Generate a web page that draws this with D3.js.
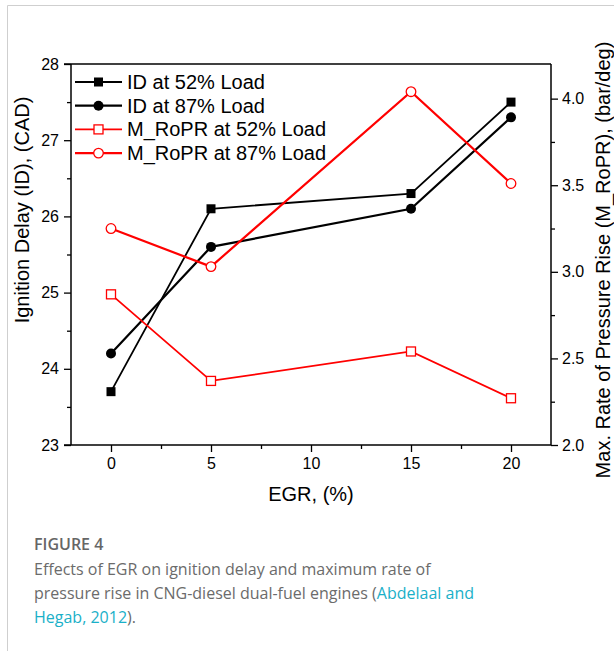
<!DOCTYPE html>
<html>
<head>
<meta charset="utf-8">
<script src="https://cdn.jsdelivr.net/npm/d3@7"></script>
<style>
  body { margin: 0; background: #fff; }
  svg text { font-family: "Liberation Sans", Arial, sans-serif; }
  .cap { font-family: "Open Sans", "Noto Sans", sans-serif; }
</style>
</head>
<body>
<div id="chart"></div>
<script>
// data
const egr = [0, 5, 15, 20];
const id52 = [23.7, 26.1, 26.3, 27.5];
const id87 = [24.2, 25.6, 26.1, 27.3];
const ropr52 = [2.87, 2.37, 2.54, 2.27];
const ropr87 = [3.25, 3.03, 4.04, 3.51];

const xTicks = [0, 5, 10, 15, 20];
const xMinor = [2.5, 7.5, 12.5, 17.5];
const leftTicks = [23, 24, 25, 26, 27, 28];
const leftMinor = [23.5, 24.5, 25.5, 26.5, 27.5];
const rightTicks = [2.0, 2.5, 3.0, 3.5, 4.0];
const rightMinor = [2.25, 2.75, 3.25, 3.75];

const legendNames = ["ID at 52% Load", "ID at 87% Load", "M_RoPR at 52% Load", "M_RoPR at 87% Load"];

const W = 614, H = 651;
const svg = d3.select('#chart').append('svg')
  .attr('width', W)
  .attr('height', H);

// card border
svg.append('path')
  .attr('d', 'M7.5,651 L7.5,5.5 L614,5.5')
  .attr('fill', 'none')
  .attr('stroke', '#cfcfcf')
  .attr('stroke-width', 1);

let x = d3.scaleLinear().domain([-2, 22]).range([71, 551]);
let yL = d3.scaleLinear().domain([23, 28]).range([445, 64]);
let yR = d3.scaleLinear().domain([2.0, 4.2]).range([445, 64]);

function styleAxis(g) {
  g.select('.domain').remove();
  g.selectAll('.tick line').attr('stroke', '#000').attr('stroke-width', 1.3);
  g.selectAll('.tick text').attr('fill', '#000').style('font-size', '16px');
}

// bottom axis
svg.append('g').attr('transform', 'translate(0,445)')
  .call(d3.axisBottom(x).tickValues(xTicks).tickSize(7).tickPadding(6).tickFormat(d3.format('d')))
  .call(styleAxis);
svg.append('g').attr('transform', 'translate(0,445)')
  .call(d3.axisBottom(x).tickValues(xMinor).tickSize(4).tickFormat(''))
  .call(styleAxis);

// left axis
svg.append('g').attr('transform', 'translate(71,0)')
  .call(d3.axisLeft(yL).tickValues(leftTicks).tickSize(7).tickPadding(5).tickFormat(d3.format('d')))
  .call(styleAxis);
svg.append('g').attr('transform', 'translate(71,0)')
  .call(d3.axisLeft(yL).tickValues(leftMinor).tickSize(4).tickFormat(''))
  .call(styleAxis);

// right axis
svg.append('g').attr('transform', 'translate(551,0)')
  .call(d3.axisRight(yR).tickValues(rightTicks).tickSize(7).tickPadding(4).tickFormat(d3.format('.1f')))
  .call(styleAxis);
svg.append('g').attr('transform', 'translate(551,0)')
  .call(d3.axisRight(yR).tickValues(rightMinor).tickSize(4).tickFormat(''))
  .call(styleAxis);

// frame
let frame = svg.append('g').attr('stroke', '#000').attr('stroke-width', 1.5);
frame.append('line').attr('x1', 64).attr('x2', 551).attr('y1', 64).attr('y2', 64);
frame.append('line').attr('x1', 64).attr('x2', 551).attr('y1', 445).attr('y2', 445);
frame.append('line').attr('x1', 71).attr('x2', 71).attr('y1', 64).attr('y2', 445);
frame.append('line').attr('x1', 551).attr('x2', 551).attr('y1', 64).attr('y2', 445);

// axis titles
svg.append('text')
  .attr('transform', 'translate(29,210) rotate(-90)')
  .attr('text-anchor', 'middle')
  .style('font-size', '20px')
  .text('Ignition Delay (ID), (CAD)');
svg.append('text')
  .attr('transform', 'translate(610,260) rotate(-90)')
  .attr('text-anchor', 'middle')
  .style('font-size', '20px')
  .text('Max. Rate of Pressure Rise (M_RoPR), (bar/deg)');
svg.append('text')
  .attr('x', 311).attr('y', 501)
  .attr('text-anchor', 'middle')
  .style('font-size', '20px')
  .text('EGR, (%)');

// series
let series = [
  { vals: id52, y: yL, color: '#000', width: 1.8, shape: 'square', filled: true },
  { vals: id87, y: yL, color: '#000', width: 2.2, shape: 'circle', filled: true },
  { vals: ropr52, y: yR, color: '#ff0000', width: 1.8, shape: 'square', filled: false },
  { vals: ropr87, y: yR, color: '#ff0000', width: 2.2, shape: 'circle', filled: false }
];

function drawMarker(g, s, cx, cy) {
  if (s.shape === 'square') {
    g.append('rect')
      .attr('x', cx - 4.5).attr('y', cy - 4.5)
      .attr('width', 9).attr('height', 9)
      .attr('fill', s.filled ? s.color : '#fff')
      .attr('stroke', s.color).attr('stroke-width', s.filled ? 0 : 1.3);
  } else {
    g.append('circle')
      .attr('cx', cx).attr('cy', cy)
      .attr('r', s.filled ? 5 : 4.8)
      .attr('fill', s.filled ? s.color : '#fff')
      .attr('stroke', s.color).attr('stroke-width', s.filled ? 0 : 1.3);
  }
}

series.forEach(s => {
  let line = d3.line()
    .x((d, i) => x(egr[i]))
    .y(d => s.y(d));
  let g = svg.append('g');
  g.append('path')
    .datum(s.vals)
    .attr('d', line)
    .attr('fill', 'none')
    .attr('stroke', s.color)
    .attr('stroke-width', s.width);
  s.vals.forEach((v, i) => drawMarker(g, s, x(egr[i]), s.y(v)));
});

// legend
let legend = svg.append('g');
legendNames.forEach((name, i) => {
  let s = series[i];
  let ly = 82 + i * 23.7;
  legend.append('line')
    .attr('x1', 75).attr('x2', 122)
    .attr('y1', ly).attr('y2', ly)
    .attr('stroke', s.color).attr('stroke-width', s.width);
  drawMarker(legend, s, 98.5, ly);
  legend.append('text')
    .attr('x', 127).attr('y', ly + 7)
    .style('font-size', '20px')
    .text(name);
});

// caption
let cap = svg.append('g').attr('class', 'cap');
cap.append('text')
  .attr('class', 'cap')
  .attr('x', 34).attr('y', 550)
  .attr('fill', '#666')
  .style('font-size', '16px')
  .style('font-weight', '600')
  .text('FIGURE 4');
let capLines = [
  [['Effects of EGR on ignition delay and maximum rate of', '#6b6b6b']],
  [['pressure rise in CNG-diesel dual-fuel engines (', '#6b6b6b'], ['Abdelaal and', '#1ab0c8']],
  [['Hegab, 2012', '#1ab0c8'], [').', '#6b6b6b']]
];
capLines.forEach((parts, i) => {
  let t = cap.append('text')
    .attr('class', 'cap')
    .attr('x', 34).attr('y', 575 + i * 24)
    .style('font-size', '16px');
  parts.forEach(p => t.append('tspan').attr('fill', p[1]).text(p[0]));
});
</script>
</body>
</html>
